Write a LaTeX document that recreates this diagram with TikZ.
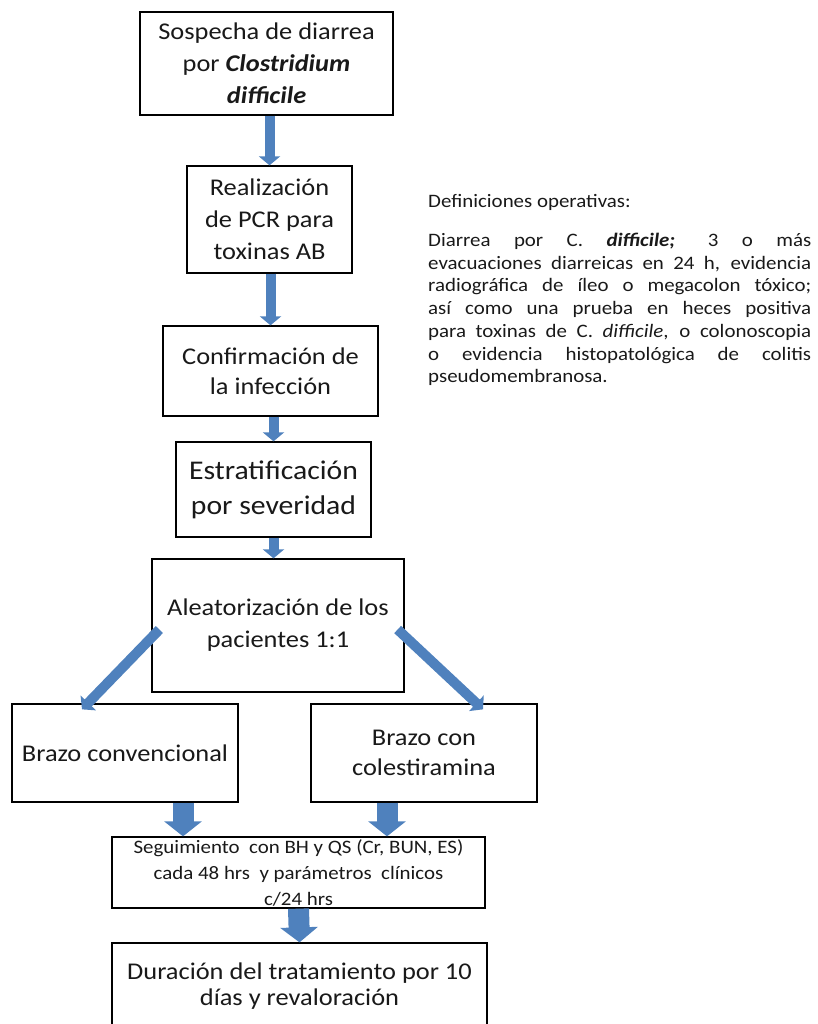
\documentclass[tikz,border=0pt]{standalone}
\usepackage{fontspec}
\setmainfont{Carlito}[FakeStretch=1.1]
\usetikzlibrary{arrows.meta}
\definecolor{azul}{RGB}{79,129,189}
\newcommand{\renglon}[1]{\leavevmode\hbox to 383pt{\spaceskip=0.25em plus 1fil\relax #1}}

\begin{document}
\begin{tikzpicture}[x=1pt,y=-1pt,
  caja/.style={draw=black,line width=1.3pt,fill=white,align=center,inner sep=0pt,text=black!90,font=\fontsize{24}{32}\selectfont},
  flecha/.style={draw=azul,line width=10pt,-{Triangle[length=9pt,width=21pt]}},
  flechota/.style={draw=azul,line width=21pt,-{Triangle[length=15pt,width=37pt]}}]
\useasboundingbox (0,0) rectangle (817,1024);
\clip (0,0) rectangle (817,1024);
\node[caja,minimum width=253pt,minimum height=103pt] (sospecha) at (266.5,63.5) {Sospecha de diarrea\\ por \textbf{\textit{Clostridium}}\\ \textbf{\textit{difficile}}};
\node[caja,minimum width=165pt,minimum height=107pt] (pcr) at (269.5,219.5) {Realización\\ de PCR para\\ toxinas AB};
\node[caja,minimum width=215pt,minimum height=90pt,font=\fontsize{24}{30}\selectfont] (confirma) at (270.5,371) {Confirmación de\\ la infección};
\node[caja,minimum width=195pt,minimum height=95pt,font=\fontsize{27}{35}\selectfont] (estrat) at (273.5,489.5) {Estratificación\\ por severidad};
\node[caja,minimum width=252pt,minimum height=133pt] (aleat) at (278,625.5) {Aleatorización de los\\ pacientes 1:1};
\node[caja,minimum width=226pt,minimum height=98pt] (convencional) at (125,753) {Brazo convencional};
\node[caja,minimum width=226pt,minimum height=98pt,font=\fontsize{24}{30}\selectfont] (colestiramina) at (424,753) {Brazo con\\ colestiramina};
\node[caja,minimum width=373pt,minimum height=71pt,font=\fontsize{19}{26}\selectfont] (seguimiento) at (298.5,872.5) {Seguimiento\ \ con BH y QS (Cr, BUN, ES)\\ cada 48 hrs\ \ y parámetros\ \ clínicos\\ c/24 hrs};
\node[caja,minimum width=375pt,minimum height=86pt,font=\fontsize{24}{26}\selectfont] (duracion) at (299.5,986) {Duración del tratamiento por 10\\ días y revaloración};
% definiciones
\node[anchor=west,inner sep=0pt,text=black!90,font=\fontsize{19}{23}\selectfont] (titulo) at (428,202) {Definiciones operativas:};
\node[anchor=north west,inner sep=0pt,text width=383pt,align=left,text=black!90,font=\fontsize{19}{22.7}\selectfont] (definicion) at (428,233) {%
\renglon{Diarrea por C. \textbf{\textit{difficile;}} 3 o más}\\
\renglon{evacuaciones diarreicas en 24 h, evidencia}\\
\renglon{radiográfica de íleo o megacolon tóxico;}\\
\renglon{así como una prueba en heces positiva}\\
\renglon{para toxinas de C. \textit{difficile}, o colonoscopia}\\
\renglon{o evidencia histopatológica de colitis}\\
pseudomembranosa.};
% flechas
\draw[flecha] (sospecha.south -| pcr) -- (pcr.north);
\draw[flecha] (pcr.south -| confirma) -- (confirma.north);
\draw[flecha] (confirma.south -| estrat) -- (estrat.north);
\draw[flecha] (estrat.south) -- (estrat.south |- aleat.north);
\draw[flecha] ([xshift=8pt,yshift=-4pt]aleat.west) -- ([xshift=-43pt,yshift=-6pt]convencional.north);
\draw[flecha] ([xshift=-7pt,yshift=-4pt]aleat.east) -- ([xshift=59pt,yshift=-6pt]colestiramina.north);
\coordinate (c1) at ([xshift=58pt]convencional.south);
\coordinate (c2) at ([xshift=-37pt]colestiramina.south);
\draw[flechota] (c1) -- (c1 |- seguimiento.north);
\draw[flechota] (c2) -- (c2 |- seguimiento.north);
\draw[flechota] (seguimiento.south) -- (duracion.north);
\end{tikzpicture}
\end{document}
